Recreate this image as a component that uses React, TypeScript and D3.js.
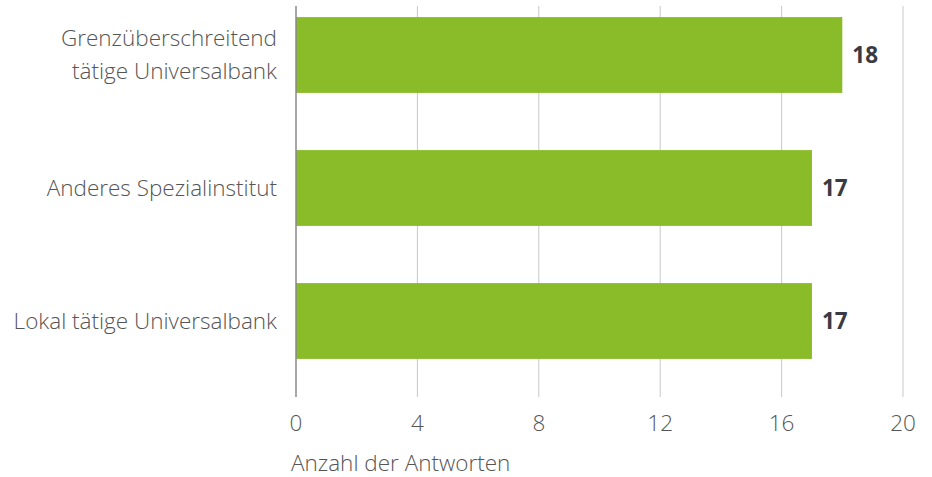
import React from 'react';
import * as d3 from 'd3';

const categories = [
  ['Grenzüberschreitend', 'tätige Universalbank'],
  ['Anderes Spezialinstitut'],
  ['Lokal tätige Universalbank'],
];
const values = [18, 17, 17];
const xTicks = [0, 4, 8, 12, 16, 20];
const axisTitle = 'Anzahl der Antworten';

const width = 932;
const height = 477;

export default function App() {
  const x = d3.scaleLinear().domain([0, 20]).range([296, 903]);
  const keys = categories.map((c) => c.join(' '));
  const y = d3.scaleBand().domain(keys).range([-11.5, 387.5]).paddingInner(0.43).paddingOuter(0.215);
  const gridTop = 6;
  const gridBottom = 397;
  const font = '"Open Sans", sans-serif';
  const fs = 22.5;

  return (
    <svg width={width} height={height} style={{ position: 'absolute', left: 0, top: 0 }}>
      {xTicks.slice(1).map((t) => (
        <line key={t} x1={x(t)} x2={x(t)} y1={gridTop} y2={gridBottom} stroke="#c8c8c8" strokeWidth={1} />
      ))}
      {values.map((v, i) => (
        <rect key={i} x={x(0)} y={y(keys[i])} width={x(v) - x(0)} height={y.bandwidth()} fill="#8abb28" />
      ))}
      <line x1={x(0)} x2={x(0)} y1={gridTop} y2={gridBottom} stroke="#8a8a8a" strokeWidth={1.5} />
      {values.map((v, i) => (
        <text key={i} x={x(v) + 10} y={(y(keys[i]) as number) + y.bandwidth() / 2} dy="0.35em"
          fontFamily={font} fontWeight={700} fontSize={fs} fill="#3a3a44">{v}</text>
      ))}
      {categories.map((lines, i) => {
        const cy = (y(keys[i]) as number) + y.bandwidth() / 2;
        const lh = 33;
        return (
          <text key={i} textAnchor="end" fontFamily={font} fontWeight={300} fontSize={fs} fill="#555">
            {lines.map((l, j) => (
              <tspan key={j} x={277} y={cy + (j - (lines.length - 1) / 2) * lh} dy="0.35em">{l}</tspan>
            ))}
          </text>
        );
      })}
      {xTicks.map((t) => (
        <text key={t} x={x(t)} y={423} dy="0.35em" textAnchor="middle" fontFamily={font} fontWeight={300}
          fontSize={fs} fill="#555">{t}</text>
      ))}
      <text x={291} y={463} dy="0.35em" fontFamily={font} fontWeight={300} fontSize={fs} fill="#555">{axisTitle}</text>
    </svg>
  );
}
